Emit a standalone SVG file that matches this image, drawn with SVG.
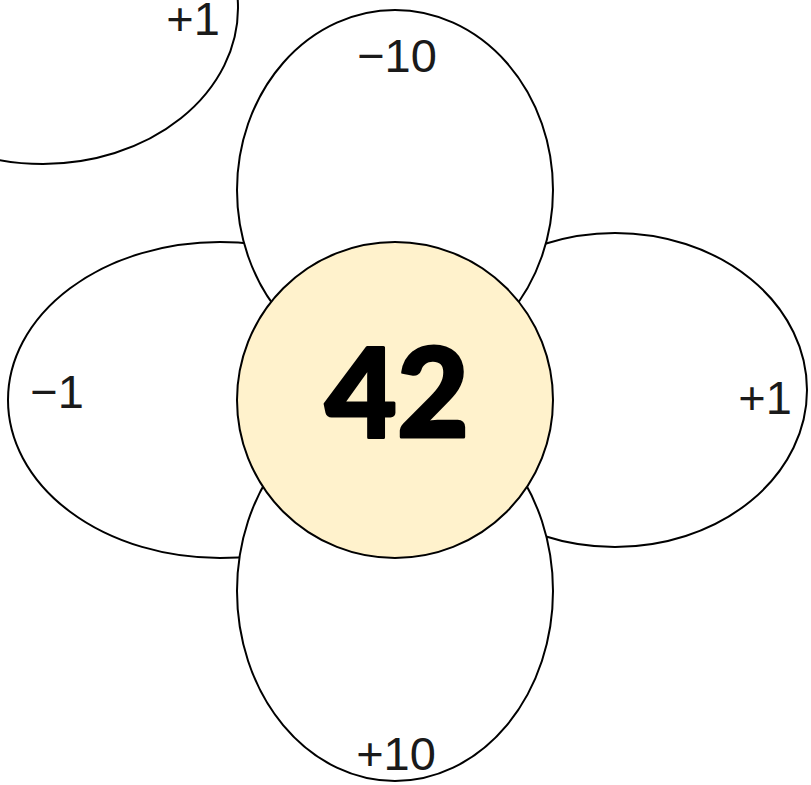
<svg xmlns="http://www.w3.org/2000/svg" width="811" height="785" viewBox="0 0 811 785">
<style>
.petal{fill:#ffffff;stroke:#000000;stroke-width:2}
.center{fill:#fff2cc;stroke:#000000;stroke-width:2}
.lbl{font-family:"Liberation Sans",Arial,sans-serif;font-size:47px;fill:#1a1a1a;text-anchor:middle}
.big{font-family:Lato,"Open Sans",sans-serif;font-weight:900;font-size:124px;fill:#000000;text-anchor:middle;stroke:#000000;stroke-width:3;stroke-linejoin:round}
</style>
<rect width="811" height="785" fill="#ffffff"/>
<g id="petal-topleft">
<ellipse class="petal" cx="43" cy="8" rx="195" ry="156"/>
<text class="lbl" x="193" y="35">+1</text>
</g>
<g id="petal-left">
<ellipse class="petal" cx="220" cy="400" rx="212" ry="158"/>
</g>
<g id="petal-right">
<ellipse class="petal" cx="615" cy="390" rx="192" ry="157"/>
</g>
<g id="petal-top">
<ellipse class="petal" cx="395" cy="190" rx="158" ry="180"/>
</g>
<g id="petal-bottom">
<ellipse class="petal" cx="395" cy="591" rx="158" ry="190"/>
</g>
<g id="center">
<circle class="center" cx="395" cy="400" r="158"/>
<text class="big" x="397" y="437">42</text>
</g>
<g id="labels">
<text class="lbl" x="397" y="72">−10</text>
<text class="lbl" x="396" y="770">+10</text>
<text class="lbl" x="57" y="408">−1</text>
<text class="lbl" x="765" y="414">+1</text>
</g>
<g id="connectors"></g>
</svg>
